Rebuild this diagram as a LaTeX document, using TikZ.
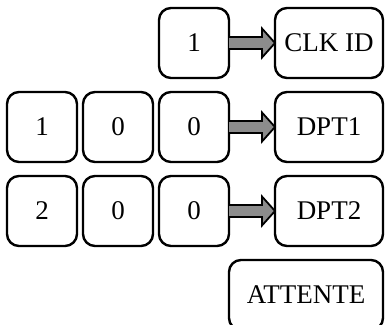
\documentclass[tikz,border=0pt]{standalone}
\usepackage{fontspec}
\setmainfont{Liberation Serif}
\usetikzlibrary{calc}
\tikzset{
  keybox/.style={draw, line width=2.4pt, rounded corners=12pt, minimum width=70pt, minimum height=70pt, inner sep=0pt, outer sep=0pt, font=\fontsize{27}{30}\selectfont},
  outbox/.style={keybox, minimum width=108pt},
  bigarrow/.style={draw, line width=1.8pt, fill=gray!90!white, line join=miter}
}
\begin{document}
\begin{tikzpicture}[x=1pt,y=-1pt]
\clip (0,0) rectangle (385,324);
% row 1
\node[keybox] (k1) at (194,43) {1};
\node[outbox] (o1) at (329,43) {CLK ID};
% row 2
\node[keybox] (a1) at (42,127) {1};
\node[keybox] (a2) at (118,127) {0};
\node[keybox] (a3) at (194,127) {0};
\node[outbox] (o2) at (329,127) {DPT1};
% row 3
\node[keybox] (b1) at (42,211) {2};
\node[keybox] (b2) at (118,211) {0};
\node[keybox] (b3) at (194,211) {0};
\node[outbox] (o3) at (329,211) {DPT2};
% attente
\node[keybox, minimum width=154pt] (att) at (306,295) {ATTENTE};
% arrows
\foreach \s/\t in {k1/o1, a3/o2, b3/o3}{
  \draw[bigarrow] ($(\s.east)+(0,-6)$) -- ($(\t.west)+(-13,-6)$) -- ($(\t.west)+(-13,-14.5)$)
    -- (\t.west) -- ($(\t.west)+(-13,14.5)$) -- ($(\t.west)+(-13,6)$) -- ($(\s.east)+(0,6)$);
}
\end{tikzpicture}
\end{document}
